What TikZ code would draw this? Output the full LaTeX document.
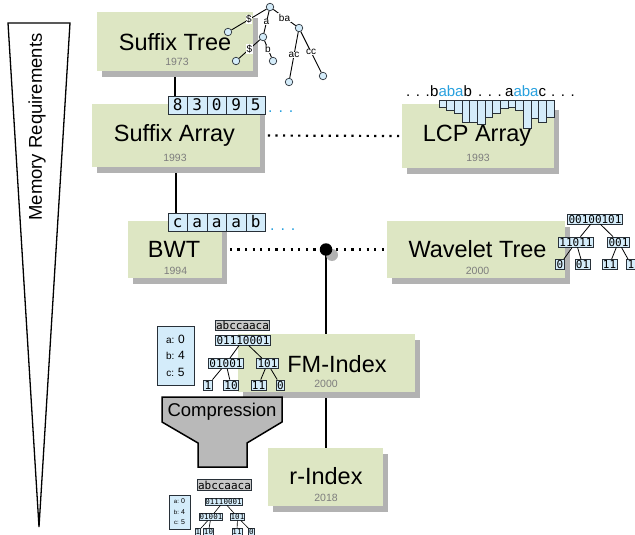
\documentclass[tikz,border=0pt]{standalone}
\usepackage{fontspec}
\setmainfont{Liberation Sans}
\setmonofont{DejaVu Sans Mono}
\usetikzlibrary{backgrounds,shadows}
\definecolor{boxgreen}{RGB}{221,230,195}
\definecolor{shadowgray}{RGB}{178,178,178}
\definecolor{cellblue}{RGB}{212,236,250}
\definecolor{textblue}{RGB}{40,160,222}
\definecolor{yeargray}{RGB}{125,125,125}
\definecolor{celledge}{RGB}{40,48,56}
\definecolor{funnelgray}{RGB}{185,185,185}
\definecolor{labelgray}{RGB}{200,200,200}
\newcommand{\myfs}[1]{\fontsize{#1}{#1}\selectfont}
\tikzset{
  algbox/.style={fill=boxgreen, draw=none, inner sep=0pt,
    drop shadow={shadow xshift=5pt, shadow yshift=-6pt, fill=shadowgray, opacity=1}},
  titletext/.style={font=\myfs{23.5}, inner sep=0pt, anchor=base},
  yeartext/.style={font=\myfs{10.5}, text=yeargray, inner sep=0pt, anchor=base},
  arrcell/.style={draw=celledge, fill=cellblue, line width=0.8pt, minimum width=19.5pt, minimum height=18pt, inner sep=0pt, font=\ttfamily\myfs{16}, text height=11.5pt, text depth=0pt},
  bluedots/.style={font=\myfs{16}, text=textblue, inner sep=0pt, anchor=base west},
  lcptext/.style={font=\myfs{15}, inner sep=0pt, anchor=base west},
  solidline/.style={line width=2pt},
  dottedline/.style={line width=2.2pt, dash pattern=on 2.2pt off 5.4pt},
  tnode/.style={circle, draw=celledge, fill=cellblue, line width=0.7pt, minimum size=7.5pt, inner sep=0pt},
  tedge/.style={line width=0.9pt},
  tlabel/.style={font=\myfs{10}, fill=white, inner sep=0.6pt},
  wcell/.style={draw=celledge, fill=cellblue, line width=0.8pt, font=\ttfamily\myfs{11}, inner xsep=0.8pt, inner ysep=1pt, text height=8pt, text depth=0pt},
  strcell/.style={wcell, fill=labelgray, text height=8.4pt},
  scell/.style={draw=celledge, fill=cellblue, line width=0.6pt, font=\ttfamily\myfs{7.5}, inner xsep=0.5pt, inner ysep=0.6pt, text height=5.6pt, text depth=0pt},
  wedge/.style={line width=0.8pt},
  lcpbar/.style={draw=celledge, fill=cellblue, line width=0.7pt},
  legendbox/.style={draw=celledge, fill=cellblue, line width=0.8pt, inner sep=0pt, align=center},
}
\begin{document}
\begin{tikzpicture}[x=1pt,y=-1pt]
\useasboundingbox (0,0) rectangle (635,535);
\clip (0,0) rectangle (635,535);

% memory requirements wedge
\draw[line width=1.3pt] (8,23) -- (70,23) -- (39,527) -- cycle;
\node[rotate=90, font=\myfs{18.5}, inner sep=0pt] (memtext) at (37,127) {Memory Requirements};

% algorithm boxes
\node[algbox, minimum width=156pt, minimum height=59pt] (stbox) at (175,41.5) {};
\node[titletext] (sttitle) at (175,51) {Suffix Tree};
\node[yeartext] (styear) at (177,66) {1973};

\node[algbox, minimum width=168pt, minimum height=63pt] (sabox) at (176,135.5) {};
\node[titletext] (satitle) at (174.5,141.5) {Suffix Array};
\node[yeartext] (sayear) at (175,161) {1993};

\node[algbox, minimum width=152pt, minimum height=64pt] (lcpbox) at (478,136) {};
\node[titletext] (lcptitle) at (477,141) {LCP Array};
\node[yeartext] (lcpyear) at (478,161) {1993};

\node[algbox, minimum width=94pt, minimum height=57pt] (bwtbox) at (175,249.5) {};
\node[titletext] (bwttitle) at (174,257.5) {BWT};
\node[yeartext] (bwtyear) at (175.5,274) {1994};

\node[algbox, minimum width=178pt, minimum height=57pt] (wtbox) at (476,249.5) {};
\node[titletext] (wttitle) at (477.5,257.5) {Wavelet Tree};
\node[yeartext] (wtyear) at (477.5,274) {2000};

\node[algbox, minimum width=177pt, minimum height=58pt] (fmbox) at (326.5,363) {};
\node[titletext] (fmtitle) at (337,372) {FM-Index};
\node[yeartext] (fmyear) at (326,387) {2000};

\node[algbox, minimum width=115pt, minimum height=58pt] (rbox) at (325.5,477) {};
\node[titletext] (rtitle) at (326,484.5) {r-Index};
\node[yeartext] (ryear) at (326,501) {2018};

% arrays
\foreach \d [count=\i] in {8,3,0,9,5}
  \node[arrcell] (sa\i) at ({158.25+19.5*\i},105) {\d};
\node[bluedots] (sadots) at (268,112) {. . .};
\foreach \d [count=\i] in {c,a,a,a,b}
  \node[arrcell] (bw\i) at ({158.25+19.5*\i},222) {\d};
\node[bluedots] (bwdots) at (270,230) {. . .};

% junction
\node[circle, fill=shadowgray, minimum size=12pt, inner sep=0pt] (juncshadow) at (332,255) {};
\node[circle, fill=black, minimum size=12.5pt, inner sep=0pt] (junc) at (326,249.5) {};

% connectors
\begin{scope}[on background layer]
\draw[solidline] (stbox.south) -- (stbox.south |- sa1.north);
\draw[solidline] (sabox.south) -- (sabox.south |- bw1.north);
\draw[dottedline] (sabox.east) -- (lcpbox.west);
\draw[dottedline] (bwtbox.east) -- (wtbox.west);
\draw[solidline] (junc.center) -- (junc.center |- rbox.north);
\end{scope}

% suffix tree
\node[tnode] (st0) at (270,7) {};
\node[tnode] (st1) at (228,32) {};
\node[tnode] (st2) at (263,37) {};
\node[tnode] (st3) at (299,28) {};
\node[tnode] (st4) at (236,61) {};
\node[tnode] (st5) at (273,61) {};
\node[tnode] (st6) at (289,82) {};
\node[tnode] (st7) at (323,76) {};
\draw[tedge] (st0) -- node[tlabel] {\$} (st1);
\draw[tedge] (st0) -- node[tlabel] {a} (st2);
\draw[tedge] (st0) -- node[tlabel] {ba} (st3);
\draw[tedge] (st2) -- node[tlabel] {\$} (st4);
\draw[tedge] (st2) -- node[tlabel] {b} (st5);
\draw[tedge] (st3) -- node[tlabel] {ac} (st6);
\draw[tedge] (st3) -- node[tlabel] {cc} (st7);

% LCP illustration
\foreach \h [count=\i from 0] in {7,10,13,22,22,24,17,13,8,7,10,28,18,22,17}
  \draw[lcpbar] ({439+7.67*\i},100) rectangle ++(7.67,\h);
\node[lcptext] (lcpd1) at (406,96) {. . .};
\node[lcptext] (lcps1) at (430,96) {b\textcolor{textblue}{aba}b};
\node[lcptext] (lcpd2) at (478,96) {. . .};
\node[lcptext] (lcps2) at (505,96) {a\textcolor{textblue}{aba}c};
\node[lcptext] (lcpd3) at (551,96) {. . .};

% wavelet tree
\node[wcell] (w0) at (595,219) {00100101};
\node[wcell] (w1) at (576,242) {11011};
\node[wcell] (w2) at (618.5,242) {001};
\node[wcell] (w3) at (560,264.5) {0};
\node[wcell] (w4) at (582.5,264.5) {01};
\node[wcell] (w5) at (609.5,264.5) {11};
\node[wcell] (w6) at (631,264.5) {1};
\draw[wedge] (w0) -- (w1);
\draw[wedge] (w0) -- (w2);
\draw[wedge] (w1) -- (w3);
\draw[wedge] (w1) -- (w4);
\draw[wedge] (w2) -- (w5);
\draw[wedge] (w2) -- (w6);

% FM-index structures
\node[legendbox, minimum width=37pt, minimum height=59pt, font=\fontsize{10}{16.5}\selectfont] (fleg) at (175.5,355.5)
  {a: {\fontsize{12}{16.5}\selectfont 0}\\b: {\fontsize{12}{16.5}\selectfont 4}\\c: {\fontsize{12}{16.5}\selectfont 5}};
\node[strcell] (fstr) at (242.5,325.5) {abccaaca};
\node[wcell] (f0) at (243,340) {01110001};
\node[wcell] (f1) at (226,363.5) {01001};
\node[wcell] (f2) at (267.5,363.5) {101};
\node[wcell] (f3) at (208,385) {1};
\node[wcell] (f4) at (231,385) {10};
\node[wcell] (f5) at (258.5,385) {11};
\node[wcell] (f6) at (280.5,385) {0};
\draw[wedge] (f0) -- (f1);
\draw[wedge] (f0) -- (f2);
\draw[wedge] (f1) -- (f3);
\draw[wedge] (f1) -- (f4);
\draw[wedge] (f2) -- (f5);
\draw[wedge] (f2) -- (f6);

% compression funnel
\draw[line width=1.5pt, fill=funnelgray] (162,397) -- (282,397) -- (282,422) -- (247,443) -- (247,467) -- (198,467) -- (198,443) -- (162,422) -- cycle;
\node[font=\myfs{18.5}, inner sep=0pt] (compr) at (222,412) {Compression};

% compressed structures
\node[strcell] (bstr) at (224.5,485) {abccaaca};
\node[legendbox, minimum width=21pt, minimum height=34pt, font=\fontsize{6}{10.5}\selectfont] (bleg) at (179.5,512)
  {a: {\fontsize{7}{10.5}\selectfont 0}\\b: {\fontsize{7}{10.5}\selectfont 4}\\c: {\fontsize{7}{10.5}\selectfont 5}};
\node[scell] (b0) at (223.5,501.5) {01110001};
\node[scell] (b1) at (211,517) {01001};
\node[scell] (b2) at (237.5,517) {101};
\node[scell] (b3) at (198,531.5) {1};
\node[scell] (b4) at (208.5,531.5) {10};
\node[scell] (b5) at (237,531.5) {11};
\node[scell] (b6) at (251.5,531.5) {0};
\draw[wedge, line width=0.6pt] (b0) -- (b1);
\draw[wedge, line width=0.6pt] (b0) -- (b2);
\draw[wedge, line width=0.6pt] (b1) -- (b3);
\draw[wedge, line width=0.6pt] (b1) -- (b4);
\draw[wedge, line width=0.6pt] (b2) -- (b5);
\draw[wedge, line width=0.6pt] (b2) -- (b6);
\end{tikzpicture}
\end{document}
